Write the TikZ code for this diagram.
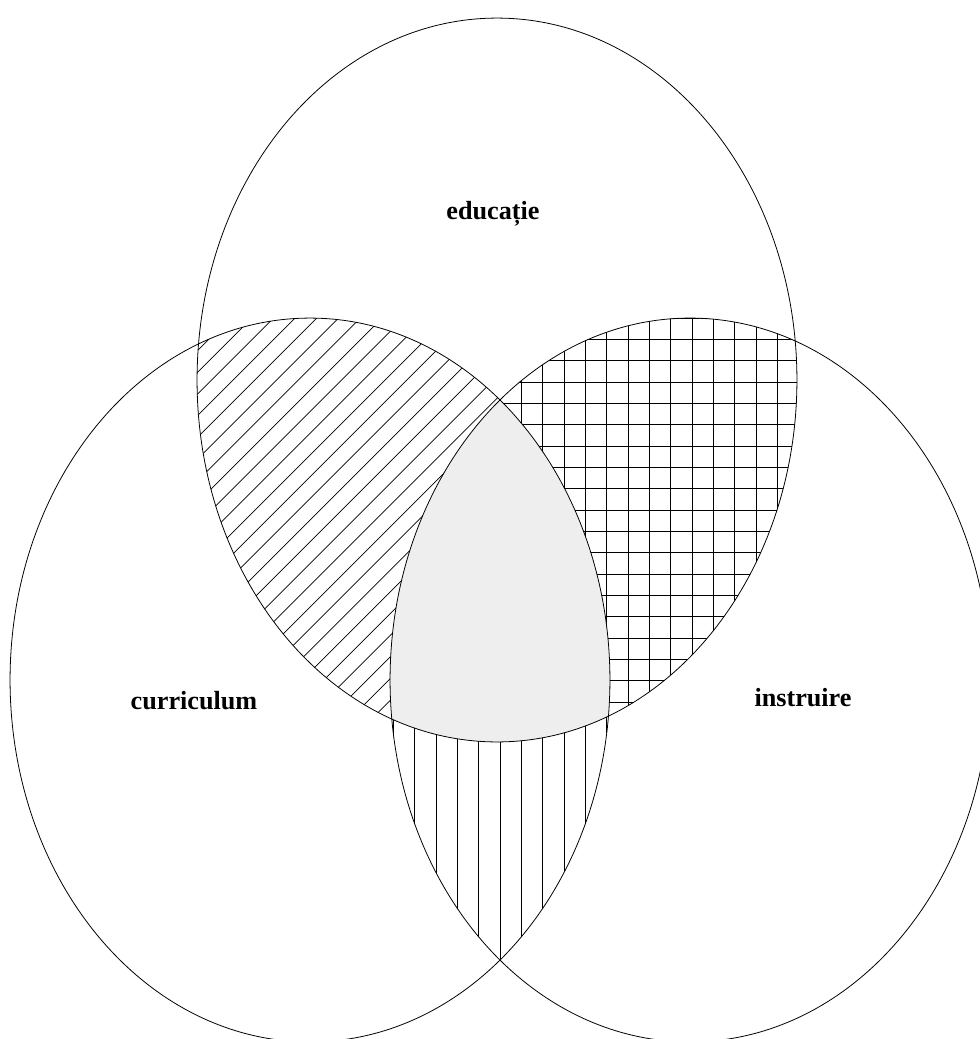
\documentclass[tikz,border=0pt]{standalone}
\usepackage{fontspec}
\setmainfont{Liberation Serif}
\definecolor{lightfill}{HTML}{EEEEEE}
\begin{document}
\begin{tikzpicture}[x=0.02cm,y=-0.02cm,
  venn/.style={draw=black, line width=0.45pt},
  hatchline/.style={draw=black, line width=0.4pt},
  vlabel/.style={font=\fontsize{14.9}{18}\selectfont\bfseries, anchor=base, inner sep=0pt},
  er/.style={x radius=6cm, y radius=7.24cm}]
\useasboundingbox (0,0) rectangle (980,1039);
\clip (0,0) rectangle (980,1039);
\coordinate (cT) at (497,380);
\coordinate (cL) at (310,680);
\coordinate (cR) at (690,680);
% all three: gray
\begin{scope}
  \clip (cT) ellipse [er];
  \clip (cL) ellipse [er];
  \fill[lightfill] (cR) ellipse [er];
\end{scope}
% top & left only: diagonal lines
\begin{scope}[even odd rule]
  \clip (cT) ellipse [er];
  \clip (cL) ellipse [er];
  \clip (-20,-20) rectangle (1100,1100) (cR) ellipse [er];
  \foreach \k in {-15,...,30} \draw[hatchline] (0,{700+21.7*\k}) -- ++(1200,-1200);
\end{scope}
% top & right only: grid
\begin{scope}[even odd rule]
  \clip (cT) ellipse [er];
  \clip (cR) ellipse [er];
  \clip (-20,-20) rectangle (1100,1100) (cL) ellipse [er];
  \foreach \k in {0,...,15} \draw[hatchline] ({500+21.33*\k},300) -- ({500+21.33*\k},760);
  \foreach \k in {-2,...,20} \draw[hatchline] (480,{339.3+21.33*\k}) -- (820,{339.3+21.33*\k});
\end{scope}
% left & right only: vertical lines
\begin{scope}[even odd rule]
  \clip (cL) ellipse [er];
  \clip (cR) ellipse [er];
  \clip (-20,-20) rectangle (1100,1100) (cT) ellipse [er];
  \foreach \k in {-6,...,6} \draw[hatchline] ({500+21.33*\k},700) -- ({500+21.33*\k},1000);
\end{scope}
% outlines
\draw[venn] (cT) ellipse [er];
\draw[venn] (cL) ellipse [er];
\draw[venn] (cR) ellipse [er];
% labels
\node[vlabel] (educ) at (493,219) {educație};
\node[vlabel] (curr) at (194,709) {curriculum};
\node[vlabel] (instr) at (803,706) {instruire};
\end{tikzpicture}
\end{document}
